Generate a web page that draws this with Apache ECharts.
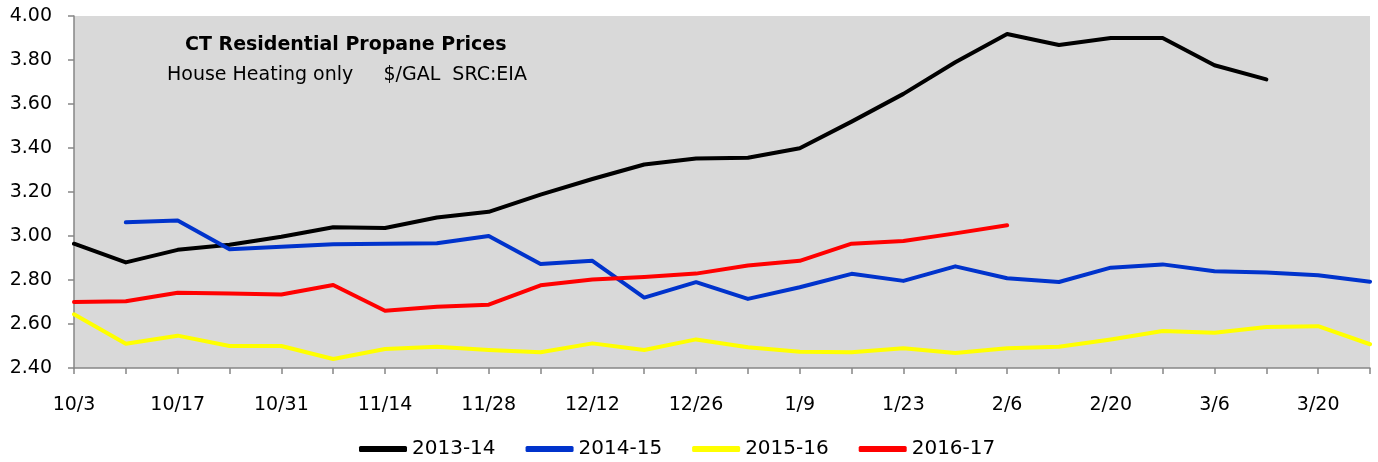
<!DOCTYPE html>
<html>
<head>
<meta charset="utf-8">
<script src="https://cdn.jsdelivr.net/npm/echarts@6/dist/echarts.min.js"></script>
<style>
  html, body { margin: 0; padding: 0; background: #fff; }
  #chart { width: 1378px; height: 462px; }
</style>
</head>
<body>
<div id="chart"></div>
<script>
// weekly dates, Oct through Mar
const weeks = ['10/3', '10/10', '10/17', '10/24', '10/31', '11/7', '11/14', '11/21', '11/28', '12/5',
  '12/12', '12/19', '12/26', '1/2', '1/9', '1/16', '1/23', '1/30', '2/6', '2/13',
  '2/20', '2/27', '3/6', '3/13', '3/20', '3/27']

const season1314 = [2.965, 2.88, 2.937, 2.96, 2.997, 3.04, 3.036, 3.084, 3.11, 3.188,
  3.259, 3.325, 3.352, 3.356, 3.399, 3.52, 3.646, 3.79, 3.918, 3.868,
  3.9, 3.9, 3.776, 3.712, null, null]
const season1415 = [null, 3.062, 3.07, 2.94, 2.951, 2.963, 2.965, 2.967, 3.0, 2.873,
  2.887, 2.72, 2.79, 2.714, 2.767, 2.828, 2.796, 2.862, 2.808, 2.791,
  2.856, 2.871, 2.84, 2.834, 2.822, 2.792]
const season1516 = [2.644, 2.51, 2.547, 2.5, 2.5, 2.441, 2.486, 2.497, 2.482, 2.472,
  2.512, 2.482, 2.53, 2.494, 2.474, 2.472, 2.49, 2.468, 2.49, 2.497,
  2.53, 2.568, 2.56, 2.586, 2.59, 2.508]
const season1617 = [2.70, 2.703, 2.742, 2.739, 2.734, 2.777, 2.66, 2.678, 2.688, 2.776,
  2.802, 2.814, 2.829, 2.866, 2.887, 2.965, 2.977, 3.012, 3.049, null,
  null, null, null, null, null, null]

const seasons = ['2013-14', '2014-15', '2015-16', '2016-17']
const colors = ['#000000', '#0033cc', '#ffff00', '#ff0000']
const values = [season1314, season1415, season1516, season1617]

const font = 'DejaVu Sans'

let chart = echarts.init(document.getElementById('chart'))

let option = {
  animation: false,
  title: [
    {
      text: 'CT Residential Propane Prices',
      left: 185,
      top: 36,
      padding: 0,
      textStyle: { fontFamily: font, fontSize: 19, fontWeight: 'bold', color: '#000' }
    },
    {
      text: 'House Heating only     $/GAL  SRC:EIA',
      left: 167,
      top: 66,
      padding: 0,
      textStyle: { fontFamily: font, fontSize: 19, fontWeight: 'normal', color: '#000' }
    }
  ],
  legend: {
    left: 354,
    top: 434,
    itemWidth: 48,
    itemHeight: 6,
    itemGap: 30,
    icon: 'roundRect',
    textStyle: { fontFamily: font, fontSize: 20, color: '#000' },
    data: seasons
  },
  grid: {
    left: 74,
    right: 8,
    top: 16,
    bottom: 94,
    show: true,
    backgroundColor: '#d9d9d9',
    borderWidth: 0
  },
  xAxis: {
    type: 'category',
    data: weeks,
    boundaryGap: false,
    axisLine: { lineStyle: { color: '#868686', width: 1.5 } },
    axisTick: { interval: 0, length: 6, lineStyle: { color: '#868686', width: 1.5 } },
    axisLabel: {
      interval: 1,
      margin: 28,
      fontFamily: font,
      fontSize: 19,
      color: '#000'
    },
    splitLine: { show: false }
  },
  yAxis: {
    type: 'value',
    min: 2.4,
    max: 4.0,
    interval: 0.2,
    axisLine: { show: true, lineStyle: { color: '#868686', width: 1.5 } },
    axisTick: { show: true, length: 6, lineStyle: { color: '#868686', width: 1.5 } },
    axisLabel: {
      margin: 22,
      fontFamily: font,
      fontSize: 19,
      color: '#000',
      formatter: v => v.toFixed(2)
    },
    splitLine: { show: false }
  },
  series: seasons.map((name, i) => ({
    name: name,
    type: 'line',
    data: values[i],
    color: colors[i],
    symbol: 'none',
    showSymbol: false,
    connectNulls: false,
    lineStyle: { width: 4, color: colors[i], cap: 'round', join: 'round' }
  }))
}

chart.setOption(option)
</script>
</body>
</html>
